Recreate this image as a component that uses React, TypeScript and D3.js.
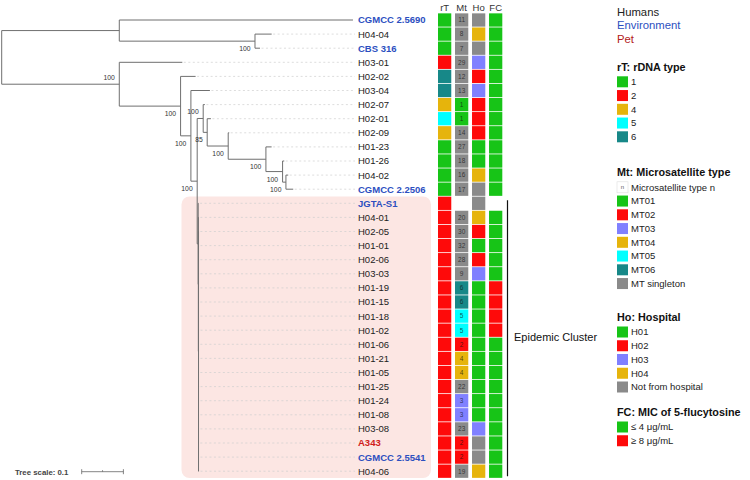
import React from "react";
import * as d3 from "d3";

// ---------------- DATA ----------------
const NEWICK =
  "((CGMCC 2.5690:0.5604,(H04-04:0.0400,CBS 316:0.0120)100:0.3254):0.2820," +
  "(H03-01:0.1511,(H02-02:0.0360,(H03-04:0.0456,((H02-07:0.0040,(H02-01:0.0089,(H02-09:0.0024,(H01-23:0.0137,(H01-26:0.0040,(H04-02:0.0055,CGMCC 2.2506:0.0175)100:0.0080)100:0.0400)100:0.0904)100:0.0504)85:0.0096)100:0.0144," +
  "(JGTA-S1:0.0010,(H04-01:0.0012,(H02-05:0.0008,H01-01:0.0010,H02-06:0.0008,H03-03:0.0012,H01-19:0.0010,H01-15:0.0008,H01-18:0.0010,H01-02:0.0012,H01-06:0.0008,H01-21:0.0010,H01-05:0.0008,H01-25:0.0012,H01-24:0.0010,H01-08:0.0008,H03-08:0.0010,A343:0.0008,CGMCC 2.5541:0.0010,H04-06:0.0012):0.0004):0.0004):0.0024)100:0.0151)100:0.0247)100:0.1470)100:0.2820);";

const LEAVES = [
  "CGMCC 2.5690", "H04-04", "CBS 316", "H03-01", "H02-02", "H03-04", "H02-07", "H02-01", "H02-09",
  "H01-23", "H01-26", "H04-02", "CGMCC 2.2506", "JGTA-S1", "H04-01", "H02-05", "H01-01", "H02-06",
  "H03-03", "H01-19", "H01-15", "H01-18", "H01-02", "H01-06", "H01-21", "H01-05", "H01-25", "H01-24",
  "H01-08", "H03-08", "A343", "CGMCC 2.5541", "H04-06",
];
const ENV_STRAINS = ["CGMCC 2.5690", "CBS 316", "CGMCC 2.2506", "JGTA-S1", "CGMCC 2.5541"];
const PET_STRAINS = ["A343"];

const RDNA = [1, 1, 1, 2, 6, 6, 4, 5, 4, 1, 1, 1, 1, 2, 2, 2, 2, 2, 2, 2, 2, 2, 2, 2, 2, 2, 2, 2, 2, 2, 2, 2, 2];
const MT = [11, 8, 7, 29, 12, 13, 1, 1, 14, 27, 18, 16, 17, null, 20, 30, 32, 28, 9, 6, 6, 5, 5, 2, 4, 4, 22, 3, 3, 23, 2, 2, 19];
const HOSP = [
  "NA", "H04", "NA", "H03", "H02", "H03", "H02", "H02", "H02", "H01", "H01", "H04", "NA", "NA",
  "H04", "H02", "H01", "H02", "H03",
  "H01", "H01", "H01", "H01", "H01", "H01", "H01", "H01", "H01", "H01",
  "H03", "NA", "NA", "H04",
];
const FC = [
  "low", "low", "low", "low", "low", "low", "low", "low", "low", "low", "low", "low", "low", null,
  "low", "low", "low", "low", "low", "high", "high", "high", "high",
  "low", "low", "low", "low", "low", "low", "low", "low", "low", "low",
];

const COLUMNS = ["rT", "Mt", "Ho", "FC"];
const RDNA_TYPES = ["1", "2", "4", "5", "6"];
const MT_TYPES = ["MT01", "MT02", "MT03", "MT04", "MT05", "MT06", "MT singleton"];
const HOSP_TYPES = ["H01", "H02", "H03", "H04", "Not from hospital"];
const FC_TYPES = ["≤ 4 μg/mL", "≥ 8 μg/mL"];
const SOURCE_TYPES = ["Humans", "Environment", "Pet"];

// ---------------- STYLE ----------------
const GREEN = "#17c417";
const RED = "#fe0a0a";
const YELLOW = "#e6b40c";
const CYAN = "#00ffff";
const TEAL = "#178888";
const PURPLE = "#8080ff";
const GRAY = "#8a8a8a";
const BLUE_TXT = "#2c4fbf";
const RED_TXT = "#d01c1c";
const FONT = "'Liberation Sans', Arial, sans-serif";

const rdnaColor: Record<string, string> = { "1": GREEN, "2": RED, "4": YELLOW, "5": CYAN, "6": TEAL };
const mtColor = (n: number) => [GREEN, RED, PURPLE, YELLOW, CYAN, TEAL][n - 1] || GRAY;
const hospColor: Record<string, string> = { H01: GREEN, H02: RED, H03: PURPLE, H04: YELLOW, NA: GRAY };
const fcColor: Record<string, string> = { low: GREEN, high: RED };

type NNode = { name: string; length: number; children: NNode[] };
function parseNewick(s: string): NNode {
  let i = 0;
  function node(): NNode {
    const n: NNode = { name: "", length: 0, children: [] };
    if (s[i] === "(") {
      i++;
      n.children.push(node());
      while (s[i] === ",") {
        i++;
        n.children.push(node());
      }
      i++;
    }
    let name = "";
    while (i < s.length && !":,();".includes(s[i])) name += s[i++];
    n.name = name.trim();
    if (s[i] === ":") {
      i++;
      let num = "";
      while (i < s.length && !",();".includes(s[i])) num += s[i++];
      n.length = parseFloat(num);
    }
    return n;
  }
  return node();
}

export default function App() {
  const root: any = d3.hierarchy(parseNewick(NEWICK), (d) => (d.children.length ? d.children : null));
  const xs = d3.scaleLinear().domain([0, 1]).range([1.7, 418.7]);
  const rowY = d3.scaleLinear().domain([0, LEAVES.length - 1]).range([20, 471.2]);

  root.eachBefore((d: any) => {
    d.dist = d.parent ? d.parent.dist + d.data.length : 0;
    d.px = xs(d.dist);
  });
  root.leaves().forEach((l: any) => {
    l.py = rowY(LEAVES.indexOf(l.data.name));
  });
  root.eachAfter((d: any) => {
    if (d.children) d.py = (d.children[0].py + d.children[d.children.length - 1].py) / 2;
  });
  const nodes = root.descendants();
  const labelX = 358;

  const col = d3.scaleBand().domain(COLUMNS).range([438, 502.3]).paddingInner(0.22);
  const cellH = 13.3;

  const branchLines: any[] = [];
  nodes.forEach((d: any, i: number) => {
    if (d.parent) branchLines.push({ k: "h" + i, x1: d.parent.px, x2: d.px, y1: d.py, y2: d.py });
    if (d.children)
      branchLines.push({
        k: "v" + i,
        x1: d.px,
        x2: d.px,
        y1: d.children[0].py,
        y2: d.children[d.children.length - 1].py,
      });
  });

  const bootstraps = nodes.filter((d: any) => d.children && d.data.name);

  const legendX = 617;
  const sq = 11;
  const legendItems = (title: string, titleY: number, items: string[], colors: string[], first?: string) => {
    const all = first ? [first, ...items] : items;
    return (
      <g key={title}>
        <text x={legendX} y={titleY + 4} fontSize={10.8} fontWeight="bold" fill="#111">
          {title}
        </text>
        {all.map((it, j) => {
          const cy = titleY + 15.3 + j * 13.75;
          const isN = first && j === 0;
          return (
            <g key={it}>
              <rect
                x={legendX}
                y={cy - sq / 2}
                width={sq}
                height={sq}
                fill={isN ? "#fff" : colors[first ? j - 1 : j]}
                stroke={isN ? "#ddd" : "none"}
                strokeWidth={0.6}
              />
              {isN && (
                <text x={legendX + sq / 2} y={cy + 2} fontSize={6} textAnchor="middle" fill="#555">
                  n
                </text>
              )}
              <text x={legendX + 14} y={cy + 3.4} fontSize={9.5} fill="#222">
                {it}
              </text>
            </g>
          );
        })}
      </g>
    );
  };

  const scale0 = 81.7;
  const scaleLen = xs(0.1) - xs(0);

  return (
    <svg
      width={750}
      height={480}
      style={{ position: "absolute", left: 0, top: 0, background: "#fff" }}
      fontFamily={FONT}
    >
      {/* epidemic cluster background */}
      <rect x={181.5} y={196.5} width={249.5} height={281.5} rx={8} fill="#fce6e3" />

      {/* dotted leader lines */}
      {root.leaves().map((l: any) =>
        labelX - 3 - l.px > 3 ? (
          <line
            key={"dl" + l.data.name}
            x1={l.px + 1.5}
            x2={labelX - 3}
            y1={l.py}
            y2={l.py}
            stroke="#cfcfcf"
            strokeWidth={0.7}
            strokeDasharray="2 2.5"
          />
        ) : null
      )}

      {/* branches */}
      {branchLines.map((b) => (
        <line key={b.k} x1={b.x1} x2={b.x2} y1={b.y1} y2={b.y2} stroke="#6f6f6f" strokeWidth={1} />
      ))}

      {/* bootstrap values */}
      {bootstraps.map((d: any, i: number) => {
        const above = d.parent && (d.parent.parent === null || d.parent.children[0] === d);
        return (
          <text
            key={"bs" + i}
            x={d.px - 4.5}
            y={above ? d.py - 4 : d.py + 10}
            fontSize={6.8}
            textAnchor="end"
            fill="#333"
          >
            {d.data.name}
          </text>
        );
      })}

      {/* leaf labels */}
      {LEAVES.map((name, i) => {
        const env = ENV_STRAINS.includes(name);
        const pet = PET_STRAINS.includes(name);
        return (
          <text
            key={"lab" + name}
            x={labelX}
            y={rowY(i) + 3.4}
            fontSize={9.5}
            fontWeight={env || pet ? "bold" : "normal"}
            fill={env ? BLUE_TXT : pet ? RED_TXT : "#222"}
          >
            {name}
          </text>
        );
      })}

      {/* column headers */}
      {COLUMNS.map((c) => (
        <text key={"ch" + c} x={(col(c) as number) + col.bandwidth() / 2} y={10.5} fontSize={9.5} textAnchor="middle" fill="#333">
          {c}
        </text>
      ))}

      {/* heatmap */}
      {LEAVES.map((name, i) => {
        const y = rowY(i) - cellH / 2;
        const w = col.bandwidth();
        const mt = MT[i];
        return (
          <g key={"hm" + name}>
            <rect x={col("rT")} y={y} width={w} height={cellH} fill={rdnaColor[String(RDNA[i])]} />
            {mt != null && (
              <>
                <rect x={col("Mt")} y={y} width={w} height={cellH} fill={mtColor(mt)} />
                <text
                  x={(col("Mt") as number) + w / 2}
                  y={rowY(i) + 2.3}
                  fontSize={6.5}
                  textAnchor="middle"
                  fill="#111"
                  fillOpacity={0.72}
                >
                  {mt}
                </text>
              </>
            )}
            <rect x={col("Ho")} y={y} width={w} height={cellH} fill={hospColor[HOSP[i]]} />
            {FC[i] && <rect x={col("FC")} y={y} width={w} height={cellH} fill={fcColor[FC[i] as string]} />}
          </g>
        );
      })}

      {/* epidemic cluster bracket */}
      <line x1={507.5} x2={507.5} y1={rowY(13) - 3} y2={rowY(32) + 5} stroke="#111" strokeWidth={1.2} />
      <text x={514} y={340.5} fontSize={11} fill="#111">
        Epidemic Cluster
      </text>

      {/* source legend */}
      {SOURCE_TYPES.map((s, j) => (
        <text key={s} x={legendX} y={15.8 + j * 13.4} fontSize={11.3} fill={["#222", BLUE_TXT, "#b32020"][j]}>
          {s}
        </text>
      ))}

      {legendItems("rT: rDNA type", 66.5, RDNA_TYPES, RDNA_TYPES.map((t) => rdnaColor[t]))}
      {legendItems("Mt: Microsatellite type", 172, MT_TYPES, [GREEN, RED, PURPLE, YELLOW, CYAN, TEAL, GRAY], "Microsatellite type n")}
      {legendItems("Ho: Hospital", 316.7, HOSP_TYPES, [GREEN, RED, PURPLE, YELLOW, GRAY])}
      {legendItems("FC: MIC of 5-flucytosine", 411.7, FC_TYPES, [GREEN, RED])}

      {/* tree scale */}
      <text x={15} y={474.5} fontSize={7.8} fontWeight="bold" fill="#444">
        Tree scale: 0.1
      </text>
      <g stroke="#666" strokeWidth={0.8}>
        <line x1={scale0} x2={scale0 + scaleLen} y1={471.7} y2={471.7} />
        <line x1={scale0} x2={scale0} y1={469.2} y2={474.2} />
        <line x1={scale0 + scaleLen} x2={scale0 + scaleLen} y1={469.2} y2={474.2} />
        <line x1={scale0 + scaleLen / 2} x2={scale0 + scaleLen / 2} y1={470.2} y2={471.7} />
      </g>
    </svg>
  );
}
